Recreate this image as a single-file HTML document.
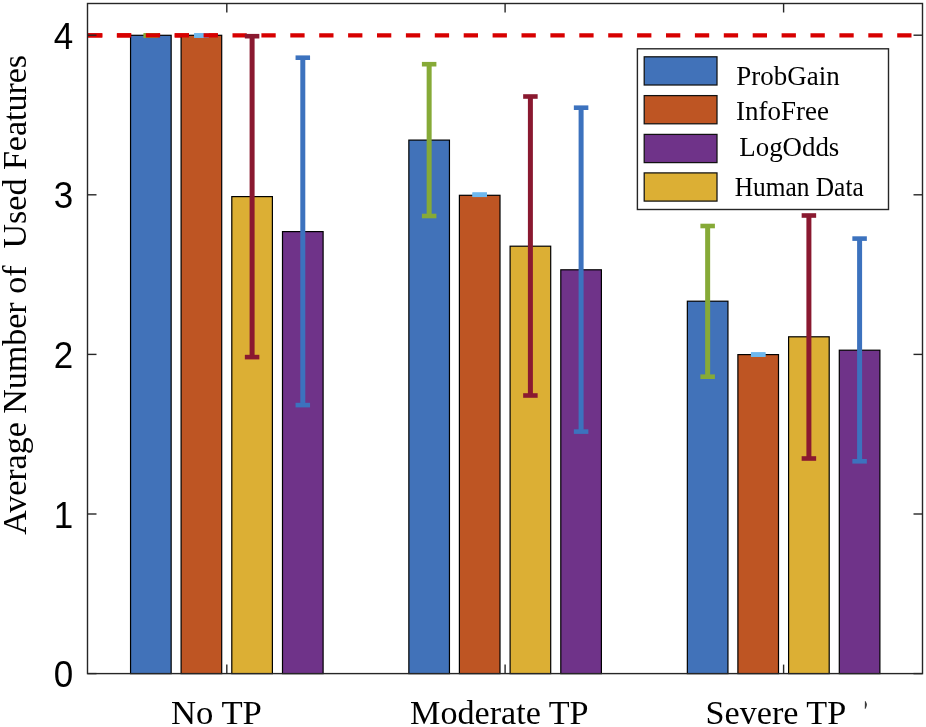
<!DOCTYPE html>
<html><head><meta charset="utf-8"><style>
html,body{margin:0;padding:0;background:#fff;width:926px;height:727px;overflow:hidden;}
svg{display:block;position:absolute;left:0;top:0;will-change:transform;}
</style></head><body>
<svg width="926" height="727" viewBox="0 0 926 727">
<rect x="0" y="0" width="926" height="727" fill="#fff"/>
<line x1="88.00" y1="35.30" x2="922.50" y2="35.30" stroke="#D70000" stroke-width="4.2" stroke-dasharray="14.3 14.6"/>
<rect x="130.55" y="35.30" width="40.60" height="638.30" fill="#4172B9" stroke="#000" stroke-width="1.2"/>
<rect x="181.10" y="35.30" width="40.60" height="638.30" fill="#BE5523" stroke="#000" stroke-width="1.2"/>
<rect x="231.80" y="196.60" width="40.60" height="477.00" fill="#DCAF34" stroke="#000" stroke-width="1.2"/>
<rect x="282.50" y="231.60" width="40.60" height="442.00" fill="#6F3389" stroke="#000" stroke-width="1.2"/>
<rect x="408.85" y="140.10" width="40.60" height="533.50" fill="#4172B9" stroke="#000" stroke-width="1.2"/>
<rect x="459.40" y="195.30" width="40.60" height="478.30" fill="#BE5523" stroke="#000" stroke-width="1.2"/>
<rect x="510.10" y="246.20" width="40.60" height="427.40" fill="#DCAF34" stroke="#000" stroke-width="1.2"/>
<rect x="560.80" y="269.80" width="40.60" height="403.80" fill="#6F3389" stroke="#000" stroke-width="1.2"/>
<rect x="687.35" y="301.20" width="40.60" height="372.40" fill="#4172B9" stroke="#000" stroke-width="1.2"/>
<rect x="737.90" y="354.60" width="40.60" height="319.00" fill="#BE5523" stroke="#000" stroke-width="1.2"/>
<rect x="788.60" y="336.80" width="40.60" height="336.80" fill="#DCAF34" stroke="#000" stroke-width="1.2"/>
<rect x="839.30" y="350.20" width="40.60" height="323.40" fill="#6F3389" stroke="#000" stroke-width="1.2"/>
<line x1="143.60" y1="35.50" x2="158.10" y2="35.50" stroke="#86AA37" stroke-width="4.6"/>
<line x1="143.60" y1="35.50" x2="158.10" y2="35.50" stroke="#86AA37" stroke-width="4.6"/>
<line x1="194.15" y1="35.50" x2="208.65" y2="35.50" stroke="#6EB8EE" stroke-width="4.6"/>
<line x1="194.15" y1="35.50" x2="208.65" y2="35.50" stroke="#6EB8EE" stroke-width="4.6"/>
<line x1="252.10" y1="36.20" x2="252.10" y2="357.10" stroke="#8A1930" stroke-width="5"/>
<line x1="244.85" y1="36.20" x2="259.35" y2="36.20" stroke="#8A1930" stroke-width="4.6"/>
<line x1="244.85" y1="357.10" x2="259.35" y2="357.10" stroke="#8A1930" stroke-width="4.6"/>
<line x1="302.80" y1="57.70" x2="302.80" y2="405.10" stroke="#3C72BE" stroke-width="5"/>
<line x1="295.55" y1="57.70" x2="310.05" y2="57.70" stroke="#3C72BE" stroke-width="4.6"/>
<line x1="295.55" y1="405.10" x2="310.05" y2="405.10" stroke="#3C72BE" stroke-width="4.6"/>
<line x1="429.15" y1="64.20" x2="429.15" y2="216.00" stroke="#86AA37" stroke-width="5"/>
<line x1="421.90" y1="64.20" x2="436.40" y2="64.20" stroke="#86AA37" stroke-width="4.6"/>
<line x1="421.90" y1="216.00" x2="436.40" y2="216.00" stroke="#86AA37" stroke-width="4.6"/>
<line x1="472.45" y1="194.75" x2="486.95" y2="194.75" stroke="#6EB8EE" stroke-width="4.6"/>
<line x1="472.45" y1="194.75" x2="486.95" y2="194.75" stroke="#6EB8EE" stroke-width="4.6"/>
<line x1="530.40" y1="96.50" x2="530.40" y2="395.50" stroke="#8A1930" stroke-width="5"/>
<line x1="523.15" y1="96.50" x2="537.65" y2="96.50" stroke="#8A1930" stroke-width="4.6"/>
<line x1="523.15" y1="395.50" x2="537.65" y2="395.50" stroke="#8A1930" stroke-width="4.6"/>
<line x1="581.10" y1="107.70" x2="581.10" y2="431.60" stroke="#3C72BE" stroke-width="5"/>
<line x1="573.85" y1="107.70" x2="588.35" y2="107.70" stroke="#3C72BE" stroke-width="4.6"/>
<line x1="573.85" y1="431.60" x2="588.35" y2="431.60" stroke="#3C72BE" stroke-width="4.6"/>
<line x1="707.65" y1="226.00" x2="707.65" y2="376.70" stroke="#86AA37" stroke-width="5"/>
<line x1="700.40" y1="226.00" x2="714.90" y2="226.00" stroke="#86AA37" stroke-width="4.6"/>
<line x1="700.40" y1="376.70" x2="714.90" y2="376.70" stroke="#86AA37" stroke-width="4.6"/>
<line x1="750.95" y1="354.60" x2="765.45" y2="354.60" stroke="#6EB8EE" stroke-width="4.6"/>
<line x1="750.95" y1="354.60" x2="765.45" y2="354.60" stroke="#6EB8EE" stroke-width="4.6"/>
<line x1="808.90" y1="215.50" x2="808.90" y2="458.50" stroke="#8A1930" stroke-width="5"/>
<line x1="801.65" y1="215.50" x2="816.15" y2="215.50" stroke="#8A1930" stroke-width="4.6"/>
<line x1="801.65" y1="458.50" x2="816.15" y2="458.50" stroke="#8A1930" stroke-width="4.6"/>
<line x1="859.60" y1="238.60" x2="859.60" y2="461.30" stroke="#3C72BE" stroke-width="5"/>
<line x1="852.35" y1="238.60" x2="866.85" y2="238.60" stroke="#3C72BE" stroke-width="4.6"/>
<line x1="852.35" y1="461.30" x2="866.85" y2="461.30" stroke="#3C72BE" stroke-width="4.6"/>
<line x1="88.00" y1="35.30" x2="232.00" y2="35.30" stroke="#D70000" stroke-width="4.2" stroke-dasharray="14.3 14.6"/>
<rect x="87.50" y="3.50" width="835.00" height="670.10" fill="none" stroke="#262626" stroke-width="1.4"/>
<line x1="87.50" y1="673.60" x2="96.50" y2="673.60" stroke="#262626" stroke-width="1.4"/>
<line x1="922.50" y1="673.60" x2="913.50" y2="673.60" stroke="#262626" stroke-width="1.4"/>
<line x1="87.50" y1="514.00" x2="96.50" y2="514.00" stroke="#262626" stroke-width="1.4"/>
<line x1="922.50" y1="514.00" x2="913.50" y2="514.00" stroke="#262626" stroke-width="1.4"/>
<line x1="87.50" y1="354.40" x2="96.50" y2="354.40" stroke="#262626" stroke-width="1.4"/>
<line x1="922.50" y1="354.40" x2="913.50" y2="354.40" stroke="#262626" stroke-width="1.4"/>
<line x1="87.50" y1="194.80" x2="96.50" y2="194.80" stroke="#262626" stroke-width="1.4"/>
<line x1="922.50" y1="194.80" x2="913.50" y2="194.80" stroke="#262626" stroke-width="1.4"/>
<line x1="87.50" y1="35.20" x2="96.50" y2="35.20" stroke="#262626" stroke-width="1.4"/>
<line x1="922.50" y1="35.20" x2="913.50" y2="35.20" stroke="#262626" stroke-width="1.4"/>
<line x1="226.80" y1="3.50" x2="226.80" y2="12.50" stroke="#262626" stroke-width="1.4"/>
<line x1="226.80" y1="673.60" x2="226.80" y2="664.60" stroke="#262626" stroke-width="1.4"/>
<line x1="505.10" y1="3.50" x2="505.10" y2="12.50" stroke="#262626" stroke-width="1.4"/>
<line x1="505.10" y1="673.60" x2="505.10" y2="664.60" stroke="#262626" stroke-width="1.4"/>
<line x1="783.60" y1="3.50" x2="783.60" y2="12.50" stroke="#262626" stroke-width="1.4"/>
<line x1="783.60" y1="673.60" x2="783.60" y2="664.60" stroke="#262626" stroke-width="1.4"/>
<text transform="translate(73.10 687.20) scale(1.0000 1.0400)" text-anchor="end" font-family="'Liberation Sans', sans-serif" font-size="35.00" fill="#000" xml:space="preserve">0</text>
<text transform="translate(73.10 527.60) scale(1.0000 1.0400)" text-anchor="end" font-family="'Liberation Sans', sans-serif" font-size="35.00" fill="#000" xml:space="preserve">1</text>
<text transform="translate(73.10 368.00) scale(1.0000 1.0400)" text-anchor="end" font-family="'Liberation Sans', sans-serif" font-size="35.00" fill="#000" xml:space="preserve">2</text>
<text transform="translate(73.10 208.40) scale(1.0000 1.0400)" text-anchor="end" font-family="'Liberation Sans', sans-serif" font-size="35.00" fill="#000" xml:space="preserve">3</text>
<text transform="translate(73.10 48.80) scale(1.0000 1.0400)" text-anchor="end" font-family="'Liberation Sans', sans-serif" font-size="35.00" fill="#000" xml:space="preserve">4</text>
<text transform="translate(216.40 724.00) scale(1.0200 1.0000)" text-anchor="middle" font-family="'Liberation Serif', serif" font-size="34.00" fill="#000" xml:space="preserve">No TP</text>
<text transform="translate(499.30 724.00) scale(1.0040 1.0000)" text-anchor="middle" font-family="'Liberation Serif', serif" font-size="34.00" fill="#000" xml:space="preserve">Moderate TP</text>
<text transform="translate(775.85 724.00) scale(1.0050 1.0000)" text-anchor="middle" font-family="'Liberation Serif', serif" font-size="34.00" fill="#000" xml:space="preserve">Severe TP</text>
<text transform="translate(26.1 294.9) rotate(-90) scale(1 1.0)" text-anchor="middle" font-family="'Liberation Serif', serif" font-size="34" fill="#000" xml:space="preserve">Average Number of  Used Features</text>
<path d="M864.9 701.1 Q865.4 700.9 865.8 701.6 Q867.2 703.8 866.8 705.6 Q866.5 707.6 865.3 709.0 Q864.8 709.1 864.8 708.5 Z" fill="#3a3a3a"/>
<rect x="637.4" y="48.8" width="251.1" height="160.7" fill="#fff" stroke="#262626" stroke-width="1.4"/>
<rect x="644.2" y="56.80" width="72.8" height="28.2" fill="#4172B9" stroke="#111" stroke-width="1.25"/>
<text transform="translate(736.30 84.90) scale(1.0000 1.0350)" text-anchor="start" font-family="'Liberation Serif', serif" font-size="27.00" fill="#000" xml:space="preserve">ProbGain</text>
<rect x="644.2" y="95.60" width="72.8" height="28.2" fill="#BE5523" stroke="#111" stroke-width="1.25"/>
<text transform="translate(736.10 120.00) scale(1.0000 1.0350)" text-anchor="start" font-family="'Liberation Serif', serif" font-size="27.00" fill="#000" xml:space="preserve">InfoFree</text>
<rect x="644.2" y="134.40" width="72.8" height="28.2" fill="#6F3389" stroke="#111" stroke-width="1.25"/>
<text transform="translate(739.30 156.30) scale(0.9950 1.0350)" text-anchor="start" font-family="'Liberation Serif', serif" font-size="27.00" fill="#000" xml:space="preserve">LogOdds</text>
<rect x="644.2" y="172.90" width="72.8" height="28.2" fill="#DCAF34" stroke="#111" stroke-width="1.25"/>
<text transform="translate(734.70 195.80) scale(0.9410 1.0350)" text-anchor="start" font-family="'Liberation Serif', serif" font-size="27.00" fill="#000" xml:space="preserve">Human Data</text>
</svg>
</body></html>
